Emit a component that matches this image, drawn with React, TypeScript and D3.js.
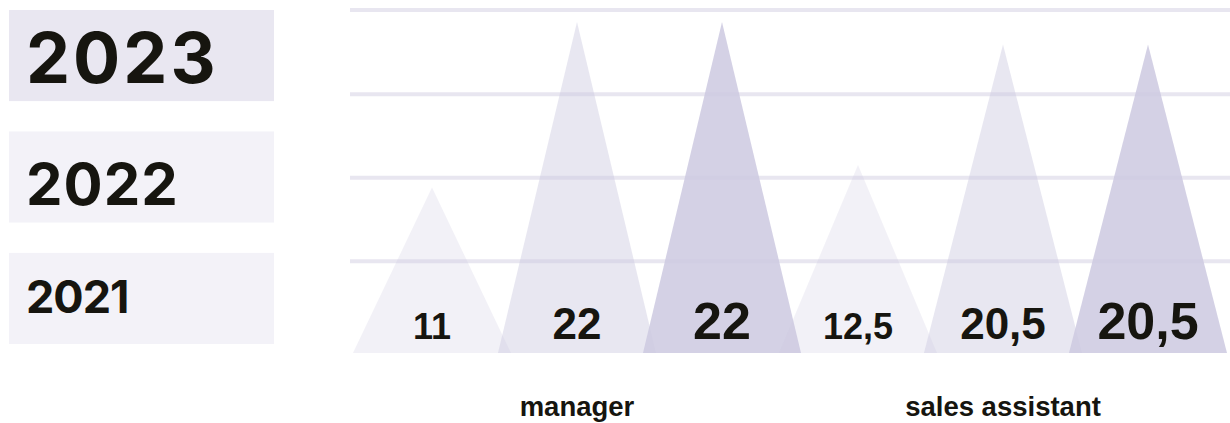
import * as d3 from 'd3'

const categories = ['manager', 'sales assistant']
const years = ['2021', '2022', '2023']
const values2021 = [11, 12.5]
const values2022 = [22, 20.5]
const values2023 = [22, 20.5]
const gridValues = [6.1, 11.65, 17.2, 22.8]
const legendYears = ['2023', '2022', '2021']

const W = 1230
const H = 423

const series = [
  { year: '2021', values: values2021, opacity: 0.25, size: 36 },
  { year: '2022', values: values2022, opacity: 0.45, size: 44 },
  { year: '2023', values: values2023, opacity: 0.85, size: 52 },
]

// box fill, font size, baseline offset from box top, letter spacing
const legendStyle: Record<string, { fill: string; size: number; base: number; ls: number }> = {
  '2023': { fill: '#e9e7f1', size: 70, base: 73, ls: 3 },
  '2022': { fill: '#f3f2f8', size: 58, base: 74, ls: 1 },
  '2021': { fill: '#f3f2f8', size: 45, base: 60, ls: -1 },
}

const fmt = (v: number) => String(v).replace('.', ',')

export default function App() {
  const x0 = d3.scaleBand().domain(categories).range([364, 1216])
  const x1 = d3.scalePoint().domain(years).range([-145, 145])
  const y = d3.scaleLinear().domain([0, 22]).range([353, 22])
  const half = 79
  const line = d3.line()

  const legendY = d3.scaleBand().domain(legendYears).range([10, 344]).paddingInner(0.25)

  return (
    <svg
      width={W}
      height={H}
      style={{ position: 'absolute', left: 0, top: 0, background: '#fff' }}
    >
      {/* legend boxes */}
      {legendYears.map((yr) => {
        const top = legendY(yr) as number
        const bh = legendY.bandwidth()
        const st = legendStyle[yr]
        return (
          <g key={yr}>
            <rect x={9} y={top} width={265} height={bh} fill={st.fill} />
            <text
              x={26}
              y={top + st.base}
              fontFamily="Inter, sans-serif"
              fontWeight={700}
              fontSize={st.size}
              letterSpacing={st.ls}
              fill="#16150f"
            >
              {yr}
            </text>
          </g>
        )
      })}

      {/* grid */}
      {gridValues.map((g) => (
        <line key={g} x1={350} x2={W} y1={y(g)} y2={y(g)} stroke="#e8e6f0" strokeWidth={4} />
      ))}

      {/* triangles */}
      {categories.map((cat, ci) => {
        const cx = (x0(cat) as number) + x0.bandwidth() / 2
        return (
          <g key={cat}>
            {series.map((s) => {
              const x = cx + (x1(s.year) as number)
              const d =
                line([
                  [x - half, y(0)],
                  [x, y(s.values[ci])],
                  [x + half, y(0)],
                ]) + 'Z'
              return <path key={s.year} d={d} fill="#cdc9e0" fillOpacity={s.opacity} />
            })}
            {series.map((s) => {
              const x = cx + (x1(s.year) as number)
              return (
                <text
                  key={'t' + s.year}
                  x={x}
                  y={339}
                  textAnchor="middle"
                  fontFamily="'Liberation Sans', Arial, sans-serif"
                  fontWeight={700}
                  fontSize={s.size}
                  fill="#16150f"
                >
                  {fmt(s.values[ci])}
                </text>
              )
            })}
            <text
              x={cx}
              y={416}
              textAnchor="middle"
              fontFamily="'Liberation Sans', Arial, sans-serif"
              fontWeight={700}
              fontSize={27.5}
              fill="#16150f"
            >
              {cat}
            </text>
          </g>
        )
      })}
    </svg>
  )
}
